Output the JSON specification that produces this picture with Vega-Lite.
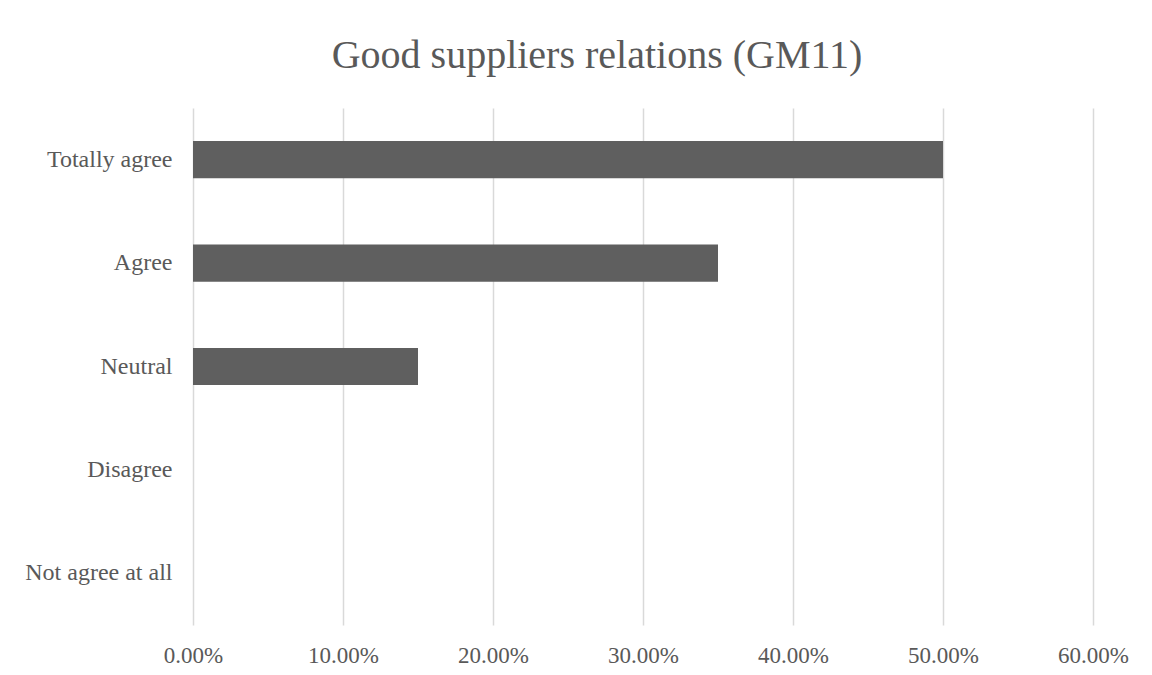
{
  "$schema": "https://vega.github.io/schema/vega-lite/v6.json",
  "autosize": {"type": "none"},
  "width": 900,
  "height": 517,
  "padding": {"left": 193, "top": 108, "right": 59, "bottom": 50},
  "background": "white",
  "title": {
    "text": "Good suppliers relations (GM11)",
    "font": "Liberation Serif",
    "fontSize": 40,
    "fontWeight": "normal",
    "color": "#595959",
    "anchor": "middle",
    "frame": "group",
    "dx": -46,
    "offset": 32
  },
  "data": {
    "values": [
      {"category": "Totally agree", "value": 0.5},
      {"category": "Agree", "value": 0.35},
      {"category": "Neutral", "value": 0.15},
      {"category": "Disagree", "value": 0},
      {"category": "Not agree at all", "value": 0}
    ]
  },
  "mark": {"type": "bar", "color": "#5f5f5f"},
  "encoding": {
    "y": {
      "field": "category",
      "type": "nominal",
      "sort": ["Totally agree", "Agree", "Neutral", "Disagree", "Not agree at all"],
      "scale": {"paddingInner": 0.64, "paddingOuter": 0.32},
      "axis": {
        "title": null,
        "domain": false,
        "ticks": false,
        "grid": false,
        "labelFont": "Liberation Serif",
        "labelFontSize": 24,
        "labelColor": "#595959",
        "labelPadding": 21
      }
    },
    "x": {
      "field": "value",
      "type": "quantitative",
      "scale": {"domain": [0, 0.6], "nice": false},
      "axis": {
        "title": null,
        "values": [0, 0.1, 0.2, 0.3, 0.4, 0.5, 0.6],
        "format": ".2%",
        "domain": false,
        "ticks": false,
        "grid": true,
        "gridColor": "#d9d9d9",
        "gridWidth": 1.5,
        "labelFlush": false,
        "labelOverlap": false,
        "labelFont": "Liberation Serif",
        "labelFontSize": 23,
        "labelColor": "#595959",
        "labelPadding": 19
      }
    }
  },
  "config": {"view": {"stroke": null}}
}
